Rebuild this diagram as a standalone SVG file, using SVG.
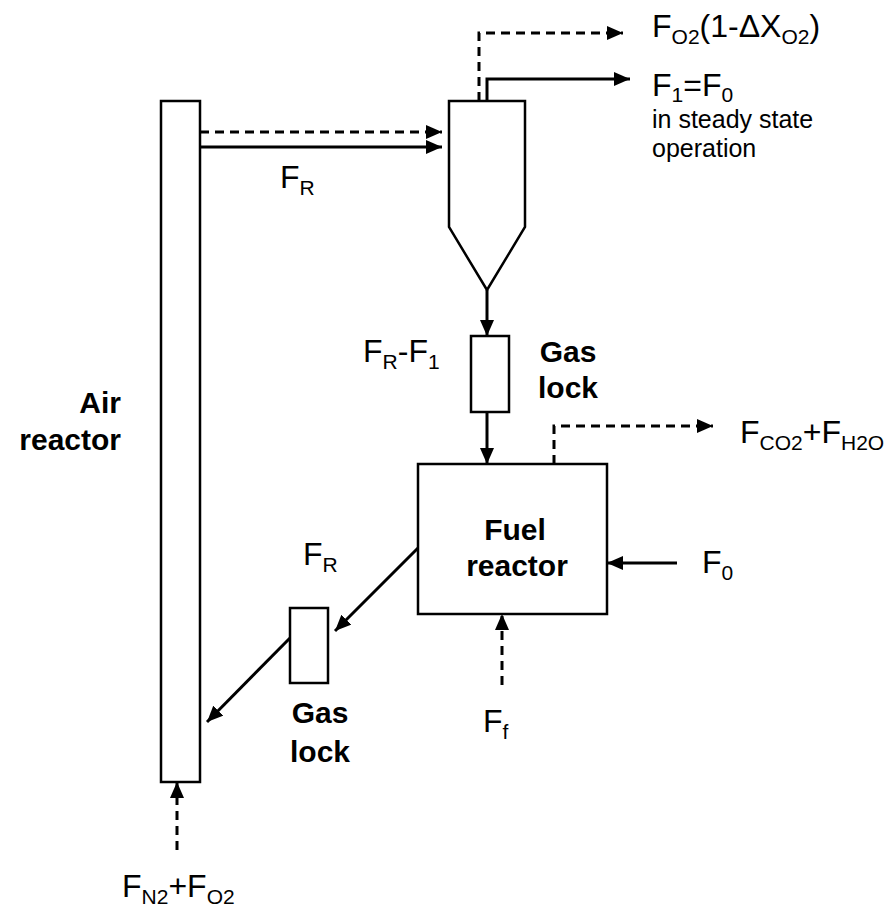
<svg xmlns="http://www.w3.org/2000/svg" width="892" height="916" viewBox="0 0 892 916">
<defs>
<style>
.box{fill:#fff;stroke:#000;stroke-width:2.5}
.ln{fill:none;stroke:#000;stroke-width:3}
.ds{fill:none;stroke:#000;stroke-width:3;stroke-dasharray:9,6}
.t{font-family:"Liberation Sans",Arial,sans-serif;font-size:32px;fill:#000}
.b{font-family:"Liberation Sans",Arial,sans-serif;font-size:30px;font-weight:bold;fill:#000}
.c{font-family:"Liberation Sans",Arial,sans-serif;font-size:25px;fill:#000}
.s{font-size:21px}
</style>
<marker id="ah" markerUnits="userSpaceOnUse" markerWidth="16" markerHeight="14" refX="16" refY="7" orient="auto">
<path d="M0,0 L16,7 L0,14 z" fill="#000" stroke="none"/>
</marker>
</defs>
<rect width="892" height="916" fill="#fff"/>
<g id="connectors">
<line class="ds" x1="200" y1="132" x2="442" y2="132" marker-end="url(#ah)"/>
<line class="ln" x1="200" y1="147" x2="442" y2="147" marker-end="url(#ah)"/>
<polyline class="ds" points="479,101 479,33 623,33" marker-end="url(#ah)"/>
<polyline class="ln" points="487,101 487,79 630,79" marker-end="url(#ah)"/>
<line class="ln" x1="487" y1="290" x2="487" y2="336" marker-end="url(#ah)"/>
<line class="ln" x1="487" y1="412" x2="487" y2="464" marker-end="url(#ah)"/>
<polyline class="ds" points="554,464 554,426 713,426" marker-end="url(#ah)"/>
<line class="ln" x1="677" y1="563" x2="607" y2="563" marker-end="url(#ah)"/>
<line class="ds" x1="502" y1="685" x2="502" y2="614" marker-end="url(#ah)"/>
<line class="ln" x1="418" y1="548" x2="335" y2="631" marker-end="url(#ah)"/>
<line class="ln" x1="290" y1="638" x2="207" y2="722" marker-end="url(#ah)"/>
<line class="ds" x1="177" y1="850" x2="177" y2="782" marker-end="url(#ah)"/>
</g>
<g id="air-reactor">
<rect class="box" x="161" y="101" width="39" height="681"/>
<text class="b" x="121" y="413" text-anchor="end">Air</text>
<text class="b" x="121" y="450" text-anchor="end">reactor</text>
</g>
<g id="cyclone">
<path class="box" d="M449,101 H525 V227 L487,290 L449,227 Z"/>
</g>
<g id="gas-lock-1">
<rect class="box" x="471" y="336" width="38" height="76"/>
<text class="b" x="568" y="362" text-anchor="middle">Gas</text>
<text class="b" x="568" y="398" text-anchor="middle">lock</text>
</g>
<g id="fuel-reactor">
<rect class="box" x="418" y="464" width="189" height="150"/>
<text class="b" x="515" y="540" text-anchor="middle">Fuel</text>
<text class="b" x="517" y="576" text-anchor="middle">reactor</text>
</g>
<g id="gas-lock-2">
<rect class="box" x="290" y="608" width="38" height="75"/>
<text class="b" x="320" y="723" text-anchor="middle">Gas</text>
<text class="b" x="320" y="762" text-anchor="middle">lock</text>
</g>
<g id="labels">
<text class="t" x="280" y="188">F<tspan class="s" dy="7">R</tspan></text>
<text class="t" x="652" y="37">F<tspan class="s" dy="7">O2</tspan><tspan dy="-7">(1-ΔX</tspan><tspan class="s" dy="7">O2</tspan><tspan dy="-7">)</tspan></text>
<text class="t" x="652" y="96">F<tspan class="s" dy="6">1</tspan><tspan dy="-6">=F</tspan><tspan class="s" dy="6">0</tspan></text>
<text class="c" x="652" y="128">in steady state</text>
<text class="c" x="652" y="157">operation</text>
<text class="t" x="363" y="362">F<tspan class="s" dy="7">R</tspan><tspan dy="-7">-F</tspan><tspan class="s" dy="7">1</tspan></text>
<text class="t" x="740" y="443">F<tspan class="s" dy="7">CO2</tspan><tspan dy="-7">+F</tspan><tspan class="s" dy="7">H2O</tspan></text>
<text class="t" x="702" y="573">F<tspan class="s" dy="7">0</tspan></text>
<text class="t" x="303" y="565">F<tspan class="s" dy="7">R</tspan></text>
<text class="t" x="483" y="732">F<tspan class="s" dy="7">f</tspan></text>
<text class="t" x="122" y="897">F<tspan class="s" dy="7">N2</tspan><tspan dy="-7">+F</tspan><tspan class="s" dy="7">O2</tspan></text>
</g>
</svg>
